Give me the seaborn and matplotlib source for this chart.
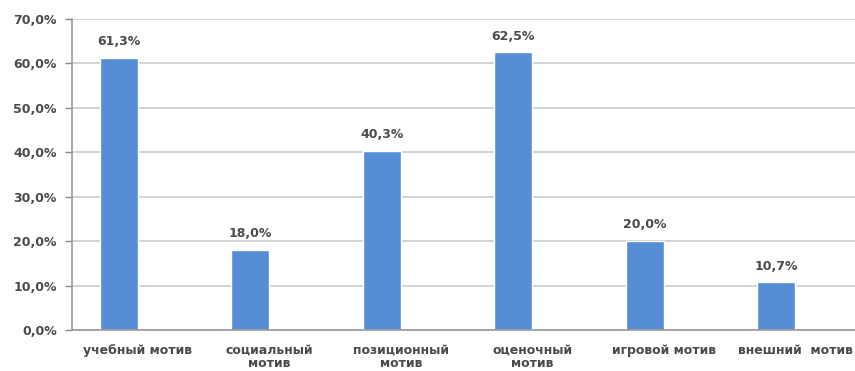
import matplotlib
matplotlib.use('Agg')
import matplotlib.pyplot as plt
import numpy as np
import pandas as pd
import seaborn as sns

categories = ['учебный мотив', 'социальный\nмотив', 'позиционный\nмотив',
              'оценочный\nмотив', 'игровой мотив', 'внешний  мотив']
values = [61.3, 18.0, 40.3, 62.5, 20.0, 10.7]
yticks = [0, 10, 20, 30, 40, 50, 60, 70]

bar_color = '#558ed5'
text_color = '#4a4a4a'

sns.set_style('white')
plt.rcParams['font.family'] = ['DejaVu Sans']

# second (empty) series only pushes the bars to the left of each slot, like in Excel
df = pd.DataFrame({
    'cat': categories * 2,
    'val': values + [np.nan] * len(values),
    'ser': ['a'] * len(values) + ['b'] * len(values),
})

fig = plt.figure(figsize=(8.55, 3.71), dpi=100)
ax = fig.add_axes([0.0842, 0.1105, 0.9228, 0.8383])

sns.barplot(data=df, x='cat', y='val', hue='ser', hue_order=['a', 'b'],
            order=categories, palette=[bar_color, bar_color], width=0.58,
            dodge=True, legend=False, saturation=1, errorbar=None, ax=ax)

ax.set_xlim(-0.5, 5.5)
ax.set_ylim(0, 70)
ax.set_yticks(yticks)
ax.set_yticklabels([f'{t:.1f}%'.replace('.', ',') for t in yticks])
ax.yaxis.grid(True, color='#cccccc', linewidth=1.2)
ax.set_axisbelow(True)

ax.set_xticks(range(len(categories)))
ax.set_xticklabels(categories, linespacing=1.0)
ax.set_xticks(np.arange(-0.5, 5.6, 1), minor=True)
ax.tick_params(axis='x', which='major', length=0, pad=10)
ax.tick_params(axis='x', which='minor', length=5, color='#888888', width=1)
ax.tick_params(axis='y', length=5, color='#888888', width=1, pad=6, left=True)
for lab in ax.get_xticklabels() + ax.get_yticklabels():
    lab.set_color(text_color)
    lab.set_fontsize(9)
    lab.set_fontweight('bold')

for s in ['top', 'right']:
    ax.spines[s].set_visible(False)
for s in ['left', 'bottom']:
    ax.spines[s].set_color('#999999')
    ax.spines[s].set_linewidth(1.2)

cont = ax.containers[0]
ax.bar_label(cont, labels=[f'{v:.1f}%'.replace('.', ',') for v in values],
             padding=7, color=text_color, fontsize=9, fontweight='bold')

ax.set_xlabel('')
ax.set_ylabel('')

plt.savefig('out.png', dpi=100)
